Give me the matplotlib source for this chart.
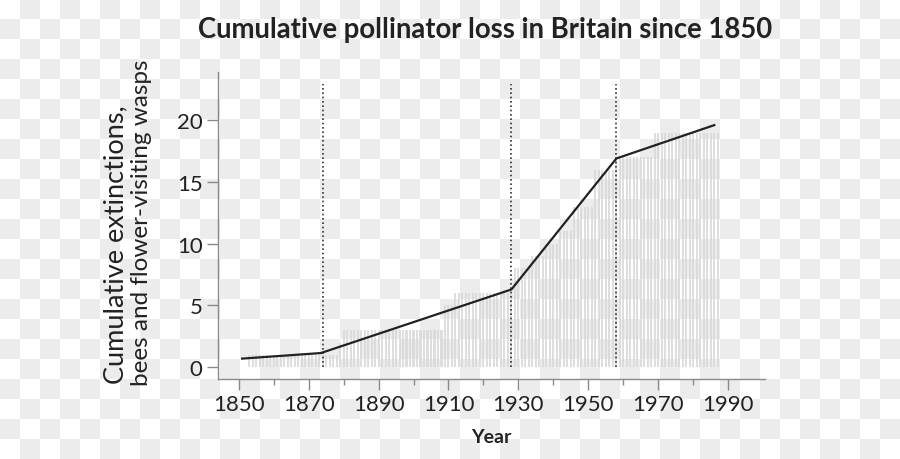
import numpy as np
import matplotlib
matplotlib.use('Agg')
import matplotlib.pyplot as plt

plt.rcParams['font.family'] = ['Lato', 'DejaVu Sans']

# Cumulative extinctions per year (grey hatched bars)
bar_years = np.arange(1851, 1988)
step_starts = [1851, 1853, 1879, 1880, 1909, 1912, 1929, 1934, 1938, 1942, 1946, 1952, 1958, 1969]
step_values = [0, 1, 2, 3, 5, 6, 8, 9, 10, 11, 13, 16, 17, 19]

# Fitted trend line (segmented)
line_years = [1851, 1873.5, 1928, 1958, 1986]
line_values = [0.7, 1.15, 6.3, 16.9, 19.6]

# Breakpoints (dotted verticals)
break_years = [1874, 1928, 1958]

ylabel_lines = ['Cumulative extinctions,', 'bees and flower-visiting wasps']

bar_values = []
for yr in bar_years:
    v = 0
    for s, val in zip(step_starts, step_values):
        if yr >= s:
            v = val
    bar_values.append(v)

fig = plt.figure(figsize=(9, 4.6), dpi=100)

# checkerboard "transparent" background
yy, xx = np.mgrid[0:460, 0:900]
check = ((xx // 20 + yy // 20) % 2).astype(float)
shade = 1.0 - check * (1.0 - 0xec / 255)
bg = np.dstack([shade, shade, shade])
fig.figimage(bg, xo=0, yo=0, origin='upper', zorder=-10)

ax = fig.add_axes([218 / 900, 1 - 380 / 460, (765 - 218) / 900, (380 - 73) / 460])
ax.patch.set_visible(False)

ax.bar(bar_years, bar_values, width=0.58, color='#d9d9d9', alpha=0.85, linewidth=0, zorder=1)
ax.vlines(break_years, 0, 22.9, colors='#333333', linestyles=(0, (1, 1.6)), linewidth=1.2, zorder=2)
ax.plot(line_years, line_values, color='#222222', linewidth=1.6, zorder=3)

ax.set_xlim(1844.1, 2000.5)
ax.set_ylim(-0.95, 23.9)

ax.set_xticks(np.arange(1850, 1991, 20))
ax.set_xticks(np.arange(1860, 1981, 20), minor=True)
ax.set_yticks([0, 5, 10, 15, 20])

for side in ['top', 'right']:
    ax.spines[side].set_visible(False)
for side in ['left', 'bottom']:
    ax.spines[side].set_color('#8a8a8a')
    ax.spines[side].set_linewidth(1.0)

ax.tick_params(axis='both', which='major', length=8, width=1, color='#8a8a8a',
               labelsize=16, labelcolor='#222222', pad=3)
ax.tick_params(axis='x', which='minor', length=4.5, width=1, color='#8a8a8a')

ax.set_xlabel('Year', fontsize=14, fontweight='bold', color='#222222', labelpad=10)

# two-line y label, first line set a bit larger
fig.text(128 / 900, 1 - 384 / 460, ylabel_lines[0], rotation=90, ha='right', va='bottom',
         fontsize=19.5, color='#222222')
fig.text(131 / 900, 1 - 386 / 460, ylabel_lines[1], rotation=90, ha='left', va='bottom',
         fontsize=17.5, color='#222222')

fig.text(485 / 900, 1 - 30 / 460, 'Cumulative pollinator loss in Britain since 1850',
         ha='center', va='center', fontsize=19.8, fontweight='bold', color='#222222')

fig.savefig('out.png', dpi=100)
